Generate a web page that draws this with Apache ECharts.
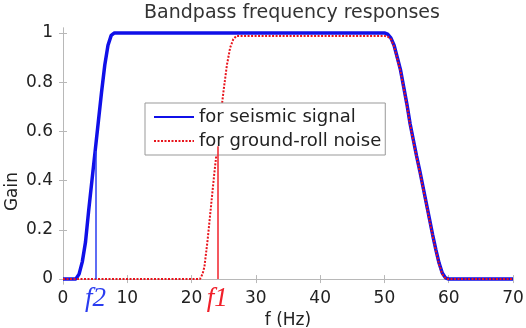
<!DOCTYPE html>
<html><head><meta charset="utf-8">
<script src="https://cdn.jsdelivr.net/npm/echarts@6/dist/echarts.min.js"></script>
<style>html,body{margin:0;padding:0;background:#fff}#c{width:526px;height:328px}</style>
</head><body><div id="c"></div>
<script>
// Data
var freqSeismic = [0,2,2.5,3,3.5,4,4.5,5,5.5,6,6.5,7,7.5,8,50,50.5,51,51.5,52,52.5,53,53.5,54,54.5,55,55.5,56,56.5,57,57.5,58,58.5,59,59.5,60,70];
var gainSeismic = [0,0,0.02,0.07,0.15,0.28,0.4,0.52,0.64,0.76,0.87,0.95,0.99,1,1,0.995,0.98,0.95,0.9,0.85,0.78,0.71,0.63,0.565,0.5,0.44,0.375,0.31,0.245,0.18,0.12,0.065,0.025,0.005,0,0];
var freqNoise = [0,21.3,21.7,22,22.5,23,23.5,24,24.5,25,25.5,26,26.5,27,50,50.5,51,51.5,52,52.5,53,53.5,54,54.5,55,55.5,56,56.5,57,57.5,58,58.5,59,59.5,60,70];
var gainNoise = [0,0,0.02,0.05,0.16,0.29,0.42,0.54,0.66,0.77,0.87,0.94,0.975,0.988,0.988,0.985,0.975,0.945,0.895,0.845,0.775,0.705,0.625,0.56,0.495,0.435,0.37,0.305,0.24,0.175,0.115,0.06,0.02,0.003,0,0];
var seriesNames = ['for seismic signal','for ground-roll noise'];
var cutoffFreq = [5.05, 24.0];
var cutoffGain = [0.52, 0.54];
var cutoffLabels = ['f2','f1'];
var yTicks = [0,0.2,0.4,0.6,0.8,1];
var xTicks = [0,10,20,30,40,50,60,70];

function pairs(xs, ys){ return xs.map(function(x,i){ return [x, ys[i]]; }); }
function cutoffLine(i, color){
  return {
    silent: true, symbol: 'none',
    lineStyle: {color: color, width: 1.5, type: 'solid', opacity: 1},
    label: {show: true, position: 'start', formatter: cutoffLabels[i], color: color,
            fontFamily: 'Liberation Serif', fontStyle: 'italic', fontSize: 27, distance: 6},
    data: [[{coord: [cutoffFreq[i], 0]}, {coord: [cutoffFreq[i], cutoffGain[i]]}]]
  };
}
var axisColor = '#b8b8b8';
var font = 'DejaVu Sans';
var chart = echarts.init(document.getElementById('c'));
chart.setOption({
  animation: false,
  title: {text: 'Bandpass frequency responses', left: 287, textAlign: 'center', top: -1,
          textStyle: {fontFamily: font, fontSize: 19, fontWeight: 'normal', color: '#333'}},
  grid: {left: 63, right: 13, top: 28, bottom: 44, outerBoundsMode: 'none', containLabel: false},
  legend: {
    orient: 'vertical', left: 145, top: 103, itemWidth: 40, itemHeight: 14, itemGap: 6,
    padding: [5, 4, 5, 8], borderColor: '#999', borderWidth: 1, backgroundColor: '#fff', borderRadius: 0,
    textStyle: {fontFamily: font, fontSize: 18, color: '#222'},
    itemStyle: {opacity: 0},
    data: seriesNames
  },
  xAxis: [{
    type: 'value', min: 0, max: 70, interval: 10, position: 'bottom',
    name: 'f (Hz)', nameLocation: 'middle', nameGap: 26,
    nameTextStyle: {fontFamily: font, fontSize: 17, color: '#222'},
    axisLine: {show: true, lineStyle: {color: axisColor}},
    axisTick: {inside: true, length: 4, lineStyle: {color: axisColor}},
    axisLabel: {fontFamily: font, fontSize: 17, color: '#222', margin: 6,
                customValues: xTicks},
    splitLine: {show: false}
  }, {
    type: 'value', min: 0, max: 70, interval: 10, position: 'top',
    axisLine: {show: true, lineStyle: {color: axisColor}},
    axisTick: {inside: true, length: 4, lineStyle: {color: axisColor}},
    axisLabel: {show: false}, splitLine: {show: false}
  }],
  yAxis: [{
    type: 'value', min: -0.02, max: 1.02, position: 'left',
    axisLine: {show: true, lineStyle: {color: axisColor}},
    axisTick: {inside: true, length: 4, lineStyle: {color: axisColor}, customValues: yTicks},
    axisLabel: {fontFamily: font, fontSize: 17, color: '#222', margin: 10, customValues: yTicks,
                formatter: function(v){ return String(Math.round(v*10)/10); }},
    splitLine: {show: false}
  }, {
    type: 'value', min: -0.02, max: 1.02, position: 'right',
    axisLine: {show: true, lineStyle: {color: axisColor}},
    axisTick: {inside: true, length: 4, lineStyle: {color: axisColor}, customValues: yTicks},
    axisLabel: {show: false}, splitLine: {show: false}
  }],
  graphic: [{
    type: 'text', left: 4, top: 172, rotation: Math.PI/2,
    style: {text: 'Gain', fontFamily: font, fontSize: 17, fill: '#222'}
  }],
  series: [{
    name: seriesNames[0], type: 'line', xAxisIndex: 0, yAxisIndex: 0,
    data: pairs(freqSeismic, gainSeismic), symbol: 'none', z: 2,
    lineStyle: {color: '#1010e8', width: 3.5}, itemStyle: {color: '#1010e8'},
    markLine: cutoffLine(0, '#2a3cf0')
  }, {
    name: seriesNames[1], type: 'line', xAxisIndex: 0, yAxisIndex: 0,
    data: pairs(freqNoise, gainNoise), symbol: 'none', z: 3,
    lineStyle: {color: '#e8141c', width: 2, type: [2, 1.5]}, itemStyle: {color: '#e8141c'},
    markLine: cutoffLine(1, '#f0202a')
  }]
});
</script></body></html>
